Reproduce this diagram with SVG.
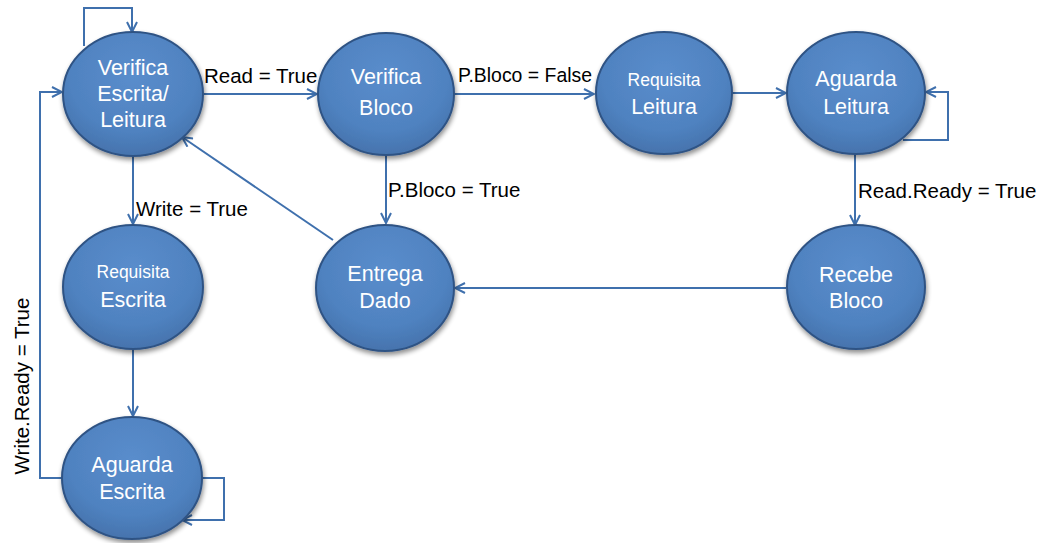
<svg xmlns="http://www.w3.org/2000/svg" width="1038" height="543" viewBox="0 0 1038 543">
  <defs>
    <radialGradient id="ballFill" cx="50%" cy="35%" r="65%">
      <stop offset="0" stop-color="#5a8dcc"/>
      <stop offset="0.7" stop-color="#4f82c0"/>
      <stop offset="1" stop-color="#4673ad"/>
    </radialGradient>
    <filter id="shadow" x="-20%" y="-20%" width="140%" height="150%">
      <feGaussianBlur in="SourceAlpha" stdDeviation="2.5"/>
      <feOffset dx="1" dy="3" result="b"/>
      <feComponentTransfer><feFuncA type="linear" slope="0.45"/></feComponentTransfer>
      <feMerge><feMergeNode/><feMergeNode in="SourceGraphic"/></feMerge>
    </filter>
    <marker id="arrow" viewBox="0 0 12 12" refX="11" refY="6" markerWidth="12" markerHeight="12" markerUnits="userSpaceOnUse" orient="auto">
      <path d="M1,1 L11,6 L1,11" fill="none" stroke="#3f70ad" stroke-width="2"/>
    </marker>
  </defs>
  <style>
    .node ellipse { fill: url(#ballFill); stroke: #2f5384; stroke-width: 2; filter: url(#shadow); }
    .node text { fill: #ffffff; font-family: "Liberation Sans", Arial, sans-serif; font-size: 21.5px; text-anchor: middle; }
    .node text.small { font-size: 17.5px; }
    .edges path { fill: none; stroke: #3f70ad; stroke-width: 2; }
    .edges path.arr { marker-end: url(#arrow); }
    .label { fill: #000000; font-family: "Liberation Sans", Arial, sans-serif; font-size: 20.5px; }
  </style>

  <rect width="1038" height="543" fill="#ffffff"/>

  <!-- transitions -->
  <g id="connectors" class="edges">
    <!-- self loop on Verifica Escrita/Leitura -->
    <path class="arr" d="M84,46 L84,8 L132,8 L132,32"/>
    <!-- Read = True -->
    <path class="arr" d="M202,94 L317,94"/>
    <!-- P.Bloco = False -->
    <path class="arr" d="M453,94 L594,94"/>
    <!-- Requisita Leitura -> Aguarda Leitura -->
    <path class="arr" d="M732,93 L786,93"/>
    <!-- self loop on Aguarda Leitura -->
    <path class="arr" d="M903,140 L948,140 L948,92 L926,92"/>
    <!-- Read.Ready = True -->
    <path class="arr" d="M855,154 L855,225"/>
    <!-- Recebe Bloco -> Entrega Dado -->
    <path class="arr" d="M786,288 L455,288"/>
    <!-- P.Bloco = True -->
    <path class="arr" d="M386,155 L386,223"/>
    <!-- Entrega Dado -> Verifica Escrita/Leitura -->
    <path class="arr" d="M333,240 L182,137"/>
    <!-- Write = True -->
    <path class="arr" d="M133,156 L133,224"/>
    <!-- Requisita Escrita -> Aguarda Escrita -->
    <path class="arr" d="M133,350 L133,416"/>
    <!-- Write.Ready = True -->
    <path class="arr" d="M62,478 L40,478 L40,92 L62,92"/>
    <!-- self loop on Aguarda Escrita -->
    <path class="arr" d="M202,478 L224,478 L224,520 L182,520"/>
  </g>

  <!-- transition labels -->
  <g id="labels">
    <text class="label" x="204" y="83">Read = True</text>
    <text class="label" x="458" y="82" textLength="134" lengthAdjust="spacingAndGlyphs">P.Bloco = False</text>
    <text class="label" x="858" y="198">Read.Ready = True</text>
    <text class="label" x="388" y="197">P.Bloco = True</text>
    <text class="label" x="136" y="216">Write = True</text>
    <text class="label" transform="translate(29,386) rotate(-90)" text-anchor="middle">Write.Ready = True</text>
  </g>

  <!-- states -->
  <g id="verifica-escrita-leitura" class="node">
    <ellipse cx="133" cy="94" rx="70" ry="62"/>
    <text x="133" y="75">Verifica</text>
    <text x="133" y="101">Escrita/</text>
    <text x="133" y="127">Leitura</text>
  </g>
  <g id="verifica-bloco" class="node">
    <ellipse cx="386" cy="94" rx="68" ry="61"/>
    <text x="386" y="84">Verifica</text>
    <text x="386" y="115">Bloco</text>
  </g>
  <g id="requisita-leitura" class="node">
    <ellipse cx="664" cy="93" rx="68" ry="61"/>
    <text class="small" x="664" y="86">Requisita</text>
    <text x="664" y="114">Leitura</text>
  </g>
  <g id="aguarda-leitura" class="node">
    <ellipse cx="856" cy="93" rx="69" ry="61"/>
    <text x="856" y="86">Aguarda</text>
    <text x="856" y="114">Leitura</text>
  </g>
  <g id="requisita-escrita" class="node">
    <ellipse cx="133" cy="287" rx="70" ry="62"/>
    <text class="small" x="133" y="278">Requisita</text>
    <text x="133" y="307">Escrita</text>
  </g>
  <g id="entrega-dado" class="node">
    <ellipse cx="385" cy="288" rx="69" ry="63"/>
    <text x="385" y="281">Entrega</text>
    <text x="385" y="308">Dado</text>
  </g>
  <g id="recebe-bloco" class="node">
    <ellipse cx="856" cy="287" rx="69" ry="62"/>
    <text x="856" y="282">Recebe</text>
    <text x="856" y="308">Bloco</text>
  </g>
  <g id="aguarda-escrita" class="node">
    <ellipse cx="132" cy="478" rx="70" ry="61"/>
    <text x="132" y="472">Aguarda</text>
    <text x="132" y="499">Escrita</text>
  </g>
</svg>
